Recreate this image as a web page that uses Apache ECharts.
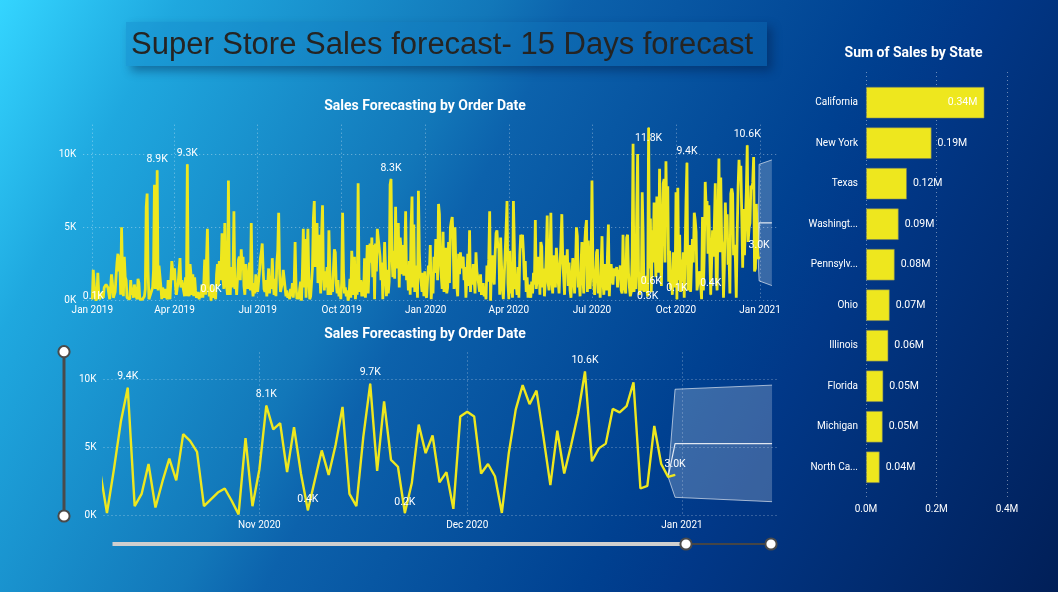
<!DOCTYPE html>
<html><head><meta charset="utf-8">
<style>
html,body{margin:0;padding:0;width:1058px;height:592px;overflow:hidden;
background:linear-gradient(118deg,#34d5ff 0%,#1fa8df 13%,#1277b9 36%,#0c62ac 42%,#004191 65%,#013888 72%,#011f58 100%);}
#c{position:relative;width:1058px;height:592px;}
#box{position:absolute;left:126px;top:21.5px;width:641px;height:44px;background:rgba(18,120,190,0.3);box-shadow:5px 5px 9px rgba(0,20,60,0.38);}
</style>
<script src="https://cdn.jsdelivr.net/npm/echarts@6/dist/echarts.min.js"></script>
</head><body><div id="box"></div><div id="c"></div>
<script>
// Daily sales in K, Jan 1 2019 onward, ten days per row
const earlierSales = [
0.1,2.1,1.2,0.3,0.0,0.2,1.9,0.5,0.1,0.0,
0.1,0.6,0.2,0.9,1.0,1.1,1.1,0.9,0.8,0.1,
0.9,1.8,1.2,0.2,0.1,0.6,1.7,2.6,3.2,2.0,
3.1,0.4,5.0,1.8,0.3,3.0,1.6,1.4,0.2,0.1,
0.3,0.1,1.4,0.4,0.9,0.2,1.1,0.7,0.3,0.1,
1.5,1.2,0.1,0.0,0.2,0.1,0.1,0.3,0.8,6.4,
7.3,2.0,0.1,0.3,0.4,0.2,0.9,2.1,7.9,0.8,
2.0,8.9,0.7,2.4,2.3,1.0,0.1,0.9,0.5,0.2,
0.8,0.3,0.1,1.4,0.5,0.1,0.2,2.7,2.6,1.4,
2.2,1.0,0.4,0.9,1.2,2.1,2.9,0.9,1.4,1.3,
1.5,0.3,1.6,0.3,9.3,0.6,0.3,2.5,1.8,0.4,
1.8,0.3,1.6,0.7,0.2,0.1,0.6,0.1,0.5,0.2,
1.1,0.2,1.1,2.8,0.4,2.8,4.9,1.1,0.3,0.9,
0.0,1.1,0.2,0.8,0.4,0.1,1.8,2.5,1.0,2.7,
1.4,2.2,4.6,1.5,0.8,5.3,2.0,1.0,0.4,8.2,
1.2,0.4,2.3,0.9,1.6,6.1,0.8,1.4,0.4,1.6,
2.8,3.0,1.4,3.5,2.4,3.0,1.0,0.4,2.5,1.4,
0.8,1.5,2.6,0.7,5.3,1.0,0.3,1.2,0.5,1.8,
1.7,0.6,1.3,2.0,2.9,3.3,3.9,2.1,0.8,0.6,
1.4,0.3,1.1,2.2,0.5,1.4,0.8,2.9,1.2,0.4,
1.5,0.3,2.6,3.4,6.0,1.8,0.6,0.9,1.2,2.1,
2.2,0.9,0.3,0.7,0.2,0.5,0.1,0.8,0.3,1.2,
0.2,1.2,4.0,1.0,0.1,0.4,0.1,0.8,1.3,0.0,
2.0,4.9,0.9,4.2,0.2,3.0,4.9,1.4,0.1,0.3,
0.2,2.2,5.6,6.8,2.3,3.3,5.3,1.2,4.5,1.9,
0.5,4.5,6.5,1.8,0.7,2.0,0.9,2.3,0.4,4.8,
2.1,0.4,1.3,0.6,2.2,3.5,3.3,1.2,0.5,1.4,
0.3,0.8,0.1,1.3,6.0,1.9,0.5,0.9,0.3,0.7,
0.0,0.3,1.5,0.2,3.4,3.3,0.4,3.0,0.1,1.0,
0.4,8.0,1.5,0.6,1.4,0.3,1.3,0.3,2.9,0.2,
1.8,3.8,0.5,2.3,3.9,2.6,4.3,1.6,3.8,0.1,
3.9,2.0,4.9,5.0,4.9,3.0,1.4,2.6,0.1,1.9,
4.0,3.9,0.3,2.1,0.5,1.3,7.9,8.3,3.1,1.6,
3.4,1.5,6.4,2.2,3.9,5.3,0.9,4.3,3.6,1.8,
3.8,1.7,2.9,6.1,1.4,2.2,0.7,2.7,0.4,5.2,
7.1,0.9,5.2,0.6,2.4,1.5,0.2,7.5,3.3,1.7,
1.2,0.6,1.9,0.3,2.0,0.4,0.2,1.4,2.4,2.0,
3.8,0.1,1.2,0.5,3.0,1.9,4.2,3.6,1.4,6.6,
5.9,2.6,1.7,0.8,4.7,0.6,2.4,3.6,0.5,0.9,
4.0,1.2,5.0,5.4,5.7,4.1,0.8,5.0,2.3,1.0,
0.3,3.2,1.8,3.3,2.2,2.8,3.0,1.4,2.3,0.2,
1.6,3.2,1.0,4.8,0.6,2.2,1.1,2.5,1.4,0.5,
3.3,2.0,1.6,1.5,0.6,1.8,0.4,0.9,1.2,0.3,
0.7,0.1,2.4,1.3,2.8,6.1,0.0,2.3,3.1,1.6,
1.1,3.2,4.6,4.8,3.6,3.9,0.4,4.3,2.4,0.8,
0.1,1.7,3.3,4.9,6.8,1.2,0.1,3.4,0.5,1.2,
0.2,6.8,6.7,0.8,1.2,0.4,2.3,0.2,3.1,4.5,
3.6,4.5,3.3,1.4,2.7,0.6,1.6,0.2,1.1,0.7,
0.2,1.3,0.5,1.9,1.1,5.5,0.8,1.4,3.0,2.7,
0.4,4.0,3.7,0.9,2.2,0.3,1.4,3.2,5.8,1.2,
0.7,2.8,6.0,1.3,0.5,3.1,2.0,0.9,3.6,2.6,
1.4,0.5,2.3,3.9,5.9,2.8,1.6,0.4,3.1,1.9,
3.5,1.0,2.6,0.7,0.2,1.5,2.9,3.0,0.5,2.2,
5.0,4.4,0.9,1.3,0.3,2.4,4.0,1.6,0.5,3.8,
4.9,5.5,0.6,4.1,1.8,0.8,2.1,8.2,2.4,1.1,
0.4,1.6,3.3,3.5,0.5,1.7,0.2,2.4,4.4,1.3,
0.4,2.5,1.6,0.7,3.2,5.2,0.3,1.9,2.5,1.6,
1.1,2.2,1.9,1.7,2.3,0.9,2.1,1.8,2.4,0.7,
0.5,4.5,1.2,0.8,0.5,4.3,4.5,1.9,0.9,0.3,
0.6,3.0,10.7,0.6,1.2,0.8,6.2,10.0,2.0,0.4,
1.1,0.7,7.4,4.6,0.6,1.3,1.7,0.8,0.3,11.8,
2.2,5.6,0.6,4.8,2.6,6.7,3.8,1.6,7.1,4.2,
1.9,9.0,3.5,1.0,4.9,8.0,8.3,2.6,9.5,5.1,
7.8,1.3,3.4,0.8,2.0,0.4,3.3,1.6,0.9,7.4,
0.1,7.7,1.4,4.5,0.6,2.8,1.3];
// Daily sales in K, Oct 9 2020 to Dec 31 2020
const recentSales = [
3.3,0.2,3.4,6.9,9.4,0.7,1.6,3.8,0.6,2.5,4.2,2.6,6.0,5.5,4.7,0.7,1.2,1.7,2.0,1.1,0.1,5.7,0.7,3.4,
8.1,6.35,6.8,3.2,6.5,3.1,0.4,2.6,4.8,3.0,5.2,8.0,1.6,0.7,5.8,9.7,3.3,8.4,4.1,3.6,0.2,2.4,
6.7,4.6,5.9,2.45,3.2,0.5,7.3,7.65,7.3,3.1,3.8,2.9,0.2,4.6,7.8,9.6,8.2,9.2,5.8,2.25,6.25,3.1,5.2,7.5,
10.6,4.0,4.95,5.3,7.85,7.6,8.05,9.8,2.0,2.2,6.6,3.8,2.85,3.0];
const firstRecentDay = 647;              // Oct 9 2020, counted from Jan 1 2019
const topLabelDays = [0,71,104,130,327,608,609,612,640,651,677,717,730];
const bottomLabelDays = [651,671,677,686,691,717,730];
// Forecast, Dec 30 2020 / Dec 31 2020 / Jan 14 2021, in K
const forecastDays = [729,730,744];
const forecastMean = [2.85,5.3,5.3];
const forecastUpper = [2.85,9.3,9.6];
const forecastLower = [2.85,1.35,1.03];

const topTickDays = [0,90,181,273,365,456,547,639,731];
const topTickLabels = ['Jan 2019','Apr 2019','Jul 2019','Oct 2019','Jan 2020','Apr 2020','Jul 2020','Oct 2020','Jan 2021'];
const bottomTickDays = [670,700,731];
const bottomTickLabels = ['Nov 2020','Dec 2020','Jan 2021'];
const yTicks = [0,5000,10000];

const states = ['California','New York','Texas','Washingt...','Pennsylv...','Ohio','Illinois','Florida','Michigan','North Ca...'];
const stateSales = [336000,186000,116000,92700,81400,67200,63400,49100,47400,38800];

const FONT = 'Roboto, "Noto Sans", sans-serif';
const WHITE = '#ffffff', YELLOW = '#eee71e';
const sales = earlierSales.concat(recentSales);
const kText = v => (v/1000).toFixed(1)+'K';
const dotted = {show:true,lineStyle:{color:'rgba(255,255,255,0.42)',type:[1,3],width:1}};
const titleStyle = {color:WHITE,fontFamily:FONT,fontSize:14,fontWeight:'bold'};

const topNudge = {0:{offset:[1,8]},608:{offset:[0,11]},609:{position:'bottom'}};
function salesData(fromDay, labelDays, nudges){
  const out=[];
  for(let d=fromDay;d<sales.length;d++){
    const item={value:[d,sales[d]*1000]};
    if(labelDays.includes(d)){
      item.symbol='circle';
      item.symbolSize=1;
      item.itemStyle={color:YELLOW};
      item.label=Object.assign({show:true,position:'top',distance:5,color:WHITE,fontFamily:FONT,fontSize:10.5,formatter:p=>kText(p.value[1])},(nudges&&nudges[d])||{});
    }
    out.push(item);
  }
  return out;
}
function dayAxis(gridIndex,minDay,maxDay,tickDays,tickLabels){
  return {type:'value',gridIndex,min:minDay,max:maxDay,
    axisLine:{show:false},axisTick:{show:false,customValues:tickDays},splitLine:dotted,
    axisLabel:{customValues:tickDays,color:WHITE,fontFamily:FONT,fontSize:10,margin:5,
      formatter:v=>tickLabels[tickDays.indexOf(v)]||''}};
}
function yAxis(gridIndex){
  return {type:'value',gridIndex,min:0,max:12000,axisLine:{show:false},axisTick:{show:false,customValues:yTicks},splitLine:dotted,
    axisLabel:{customValues:yTicks,color:WHITE,fontFamily:FONT,fontSize:10,margin:7,formatter:v=>(v/1000)+'K'}};
}
function forecastSeries(ax){
  const edge={color:'rgba(255,255,255,0.6)',width:1};
  const base={type:'line',xAxisIndex:ax,yAxisIndex:ax,symbol:'none',silent:true,z:1};
  return [
    {type:'custom',xAxisIndex:ax,yAxisIndex:ax,silent:true,z:1,coordinateSystem:'cartesian2d',
      data:[forecastDays[0]],
      renderItem:(params,api)=>{
        const up=forecastDays.map((d,i)=>api.coord([d,forecastUpper[i]*1000]));
        const low=forecastDays.map((d,i)=>api.coord([d,forecastLower[i]*1000])).reverse();
        return {type:'polygon',shape:{points:up.concat(low)},style:{fill:'rgba(255,255,255,0.22)'}};
      }},
    Object.assign({},base,{lineStyle:edge,data:forecastDays.map((x,i)=>[x,forecastLower[i]*1000])}),
    Object.assign({},base,{lineStyle:edge,data:forecastDays.map((x,i)=>[x,forecastUpper[i]*1000])}),
    Object.assign({},base,{lineStyle:{color:'rgba(255,255,255,0.85)',width:1.2},data:forecastDays.map((x,i)=>[x,forecastMean[i]*1000])})
  ];
}
function handle(x,y){return {type:'circle',shape:{cx:x,cy:y,r:5.6},style:{fill:'#fff',stroke:'#4a4a4a',lineWidth:2}};}
function bar(x1,y1,x2,y2,color,w){return {type:'line',shape:{x1,y1,x2,y2},style:{stroke:color,lineWidth:w}};}

const chart=echarts.init(document.getElementById('c'),null,{renderer:'canvas'});
chart.setOption({
  animation:false,backgroundColor:'transparent',
  title:[
    {text:'Sales Forecasting by Order Date',left:425,top:99,padding:0,textAlign:'center',textStyle:titleStyle},
    {text:'Sales Forecasting by Order Date',left:425,top:327,padding:0,textAlign:'center',textStyle:titleStyle},
    {text:'Sum of Sales by State',left:913.5,top:46,padding:0,textAlign:'center',textStyle:titleStyle}
  ],
  grid:[
    {left:83.2,top:124.7,width:695.1,height:176},
    {left:103.5,top:352.5,width:673.2,height:163.2},
    {left:866,top:72,width:141,height:425},
    {left:866,top:82.4,width:141,height:405.1}
  ],
  xAxis:[
    dayAxis(0,-10,751,topTickDays,topTickLabels),
    dayAxis(1,647.5,744.67,bottomTickDays,bottomTickLabels),
    {type:'value',gridIndex:2,min:0,max:400000,interval:200000,axisLine:{show:false},axisTick:{show:false},splitLine:dotted,
      axisLabel:{color:WHITE,fontFamily:FONT,fontSize:10,margin:7,formatter:v=>(v/1e6).toFixed(1)+'M'}},
    {type:'value',gridIndex:3,min:0,max:400000,show:false}
  ],
  yAxis:[
    yAxis(0),yAxis(1),
    {type:'value',gridIndex:2,min:0,max:1,show:false},
    {type:'category',gridIndex:3,data:states,inverse:true,axisLine:{show:false},axisTick:{show:false},splitLine:{show:false},
      axisLabel:{color:WHITE,fontFamily:FONT,fontSize:10,margin:8}}
  ],
  series:[
    ...forecastSeries(0),...forecastSeries(1),
    {type:'line',xAxisIndex:0,yAxisIndex:0,symbol:'none',z:3,lineStyle:{color:YELLOW,width:2.8},data:salesData(0,topLabelDays,topNudge)},
    {type:'line',xAxisIndex:1,yAxisIndex:1,symbol:'none',z:3,lineStyle:{color:YELLOW,width:2.4},data:salesData(firstRecentDay,bottomLabelDays)},
    {type:'bar',xAxisIndex:3,yAxisIndex:3,barCategoryGap:'22%',z:3,
      itemStyle:{color:YELLOW,borderColor:'rgba(120,130,100,0.7)',borderWidth:0.8},
      data:stateSales.map((v,i)=>({value:v,label:i===0?{position:'insideRight',distance:7}:{position:'right',distance:6}})),
      label:{show:true,color:WHITE,fontFamily:FONT,fontSize:10.5,formatter:p=>(p.value/1e6).toFixed(2)+'M'}}
  ],
  graphic:[
    {type:'text',x:131,y:45,style:{text:'Super Store Sales forecast- 15 Days forecast',fill:'#252423',font:'31px "Liberation Sans", Arial, sans-serif',verticalAlign:'middle'}},
    bar(64,352,64,515.7,'#4a4a4a',3),
    handle(64,351.7),handle(64,516),
    bar(112.5,544,686,544,'#cfcfcf',4),
    bar(686,544,771,544,'#454545',2),
    handle(686,544),handle(771,544)
  ]
});
</script></body></html>
